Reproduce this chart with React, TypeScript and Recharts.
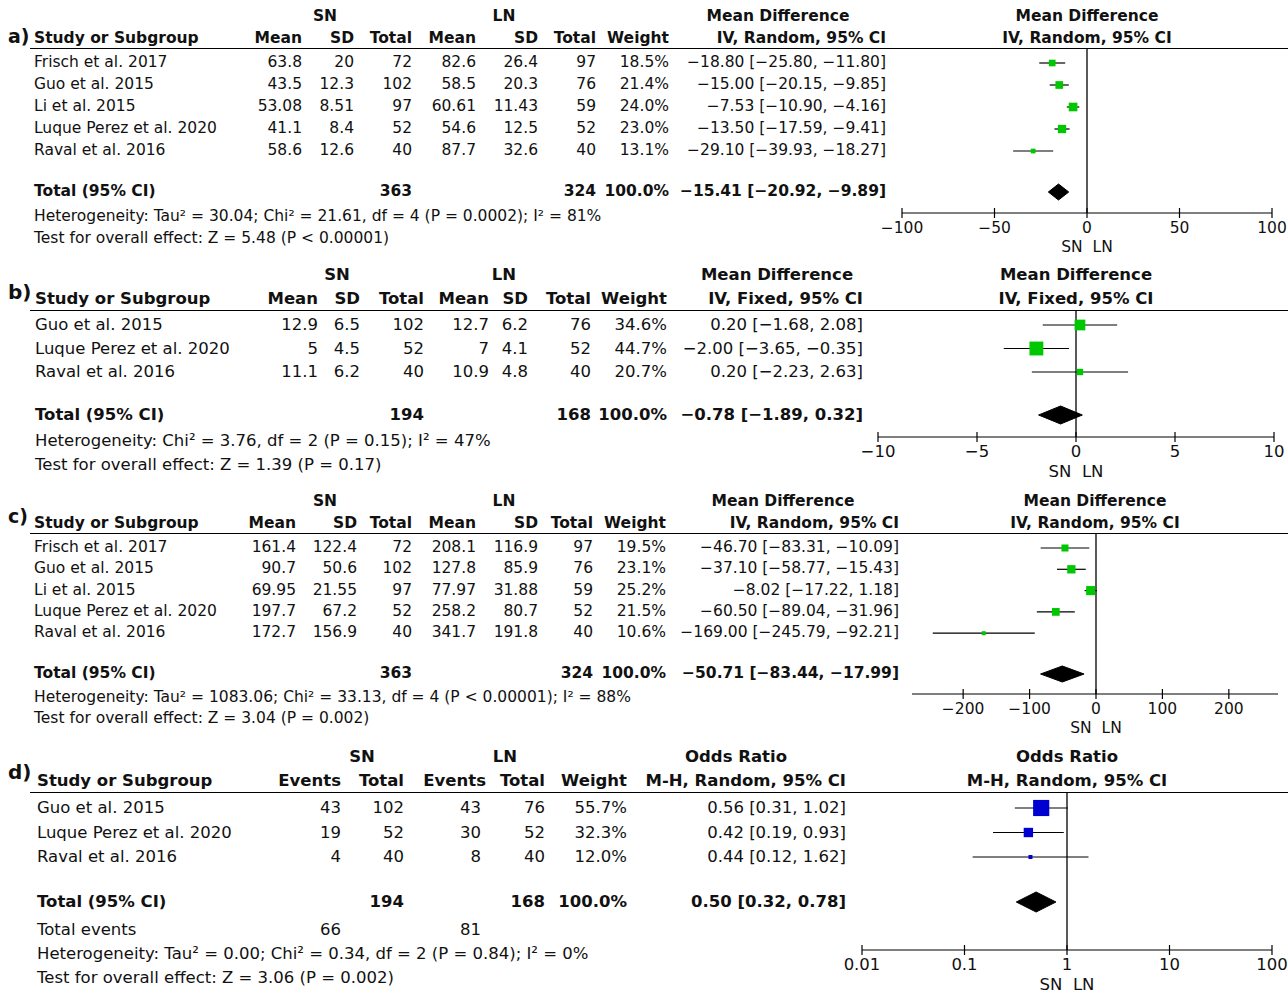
import React from "react";
import { ComposedChart, Scatter, ErrorBar, Area, XAxis, YAxis, ReferenceLine } from "recharts";

// ---------- data ----------
const A_STUDIES = ["Frisch et al. 2017", "Guo et al. 2015", "Li et al. 2015", "Luque Perez et al. 2020", "Raval et al. 2016"];
const A_SN_MEAN = ["63.8", "43.5", "53.08", "41.1", "58.6"];
const A_SN_SD = ["20", "12.3", "8.51", "8.4", "12.6"];
const A_SN_N = [72, 102, 97, 52, 40];
const A_LN_MEAN = ["82.6", "58.5", "60.61", "54.6", "87.7"];
const A_LN_SD = ["26.4", "20.3", "11.43", "12.5", "32.6"];
const A_LN_N = [97, 76, 59, 52, 40];
const A_W = [18.5, 21.4, 24.0, 23.0, 13.1];
const A_EST = [-18.8, -15.0, -7.53, -13.5, -29.1];
const A_LO = [-25.8, -20.15, -10.9, -17.59, -39.93];
const A_HI = [-11.8, -9.85, -4.16, -9.41, -18.27];
const A_TOT = [-15.41, -20.92, -9.89];
const A_TOT_N = [363, 324];

const B_STUDIES = ["Guo et al. 2015", "Luque Perez et al. 2020", "Raval et al. 2016"];
const B_SN_MEAN = ["12.9", "5", "11.1"];
const B_SN_SD = ["6.5", "4.5", "6.2"];
const B_SN_N = [102, 52, 40];
const B_LN_MEAN = ["12.7", "7", "10.9"];
const B_LN_SD = ["6.2", "4.1", "4.8"];
const B_LN_N = [76, 52, 40];
const B_W = [34.6, 44.7, 20.7];
const B_EST = [0.2, -2.0, 0.2];
const B_LO = [-1.68, -3.65, -2.23];
const B_HI = [2.08, -0.35, 2.63];
const B_TOT = [-0.78, -1.89, 0.32];
const B_TOT_N = [194, 168];

const C_STUDIES = A_STUDIES;
const C_SN_MEAN = ["161.4", "90.7", "69.95", "197.7", "172.7"];
const C_SN_SD = ["122.4", "50.6", "21.55", "67.2", "156.9"];
const C_SN_N = [72, 102, 97, 52, 40];
const C_LN_MEAN = ["208.1", "127.8", "77.97", "258.2", "341.7"];
const C_LN_SD = ["116.9", "85.9", "31.88", "80.7", "191.8"];
const C_LN_N = [97, 76, 59, 52, 40];
const C_W = [19.5, 23.1, 25.2, 21.5, 10.6];
const C_EST = [-46.7, -37.1, -8.02, -60.5, -169.0];
const C_LO = [-83.31, -58.77, -17.22, -89.04, -245.79];
const C_HI = [-10.09, -15.43, 1.18, -31.96, -92.21];
const C_TOT = [-50.71, -83.44, -17.99];
const C_TOT_N = [363, 324];

const D_STUDIES = B_STUDIES;
const D_SN_EV = [43, 19, 4];
const D_SN_N = [102, 52, 40];
const D_LN_EV = [43, 30, 8];
const D_LN_N = [76, 52, 40];
const D_W = [55.7, 32.3, 12.0];
const D_EST = [0.56, 0.42, 0.44];
const D_LO = [0.31, 0.19, 0.12];
const D_HI = [1.02, 0.93, 1.62];
const D_TOT = [0.5, 0.32, 0.78];
const D_TOT_N = [194, 168];
const D_TOT_EV = [66, 81];

const TICKS_A = [-100, -50, 0, 50, 100];
const TICKS_B = [-10, -5, 0, 5, 10];
const TICKS_C = [-200, -100, 0, 100, 200];
const TICKS_D = [0.01, 0.1, 1, 10, 100];

// ---------- helpers ----------
const FONT = "'DejaVu Sans', sans-serif";
const num = (v: number, d = 2) => (v < 0 ? "\u2212" : "") + Math.abs(v).toFixed(d);
const ci = (e: number, l: number, h: number) => `${num(e)} [${num(l)}, ${num(h)}]`;

type TProps = { x: number; y: number; size: number; bold?: boolean; align?: "l" | "r" | "c"; children: React.ReactNode };
const T = ({ x, y, size, bold, align = "l", children }: TProps) => {
  const style: React.CSSProperties = {
    position: "absolute", top: y, fontSize: size, fontWeight: bold ? "bold" : "normal",
    whiteSpace: "nowrap", lineHeight: "1", transform: "translateY(-50%)", color: "#111",
  };
  if (align === "l") style.left = x;
  else if (align === "r") style.right = 1288 - x;
  else { style.left = x; style.transform = "translate(-50%,-50%)"; }
  return <div style={style}>{children}</div>;
};

type ForestProps = {
  lineY: number; rowStart: number; rowH: number; totalY: number; axisY: number;
  xl: number; xr: number; domain: [number, number]; ticks: number[]; log?: boolean;
  est: number[]; lo: number[]; hi: number[]; w: number[]; tot: number[];
  color: string; sq: number; fs: number; zero: number; zeroPx: number; dh: number;
};

const Forest = (p: ForestProps) => {
  const pad = 20;
  const width = p.xr - p.xl + pad * 2;
  const height = p.axisY - p.lineY + 40;
  const yDom: [number, number] = [(p.lineY - p.rowStart) / p.rowH, (p.axisY - p.rowStart) / p.rowH];
  const rows = p.est.map((e, i) => ({ x: e, y: i, err: [e - p.lo[i], p.hi[i] - e], w: p.w[i] }));
  const ty = (p.totalY - p.rowStart) / p.rowH;
  const dh = p.dh / p.rowH;
  const diamond = [
    { x: p.tot[1], r: [ty, ty] },
    { x: p.tot[0], r: [ty - dh, ty + dh] },
    { x: p.tot[2], r: [ty, ty] },
  ];
  const Sq = (props: any) => {
    const s = Math.max(4, props.payload.w * p.sq);
    return <rect x={props.cx - s / 2} y={props.cy - s / 2} width={s} height={s} fill={p.color} />;
  };
  const Tick = (props: any) => {
    const { x, y, payload } = props;
    const v = payload.value as number;
    const label = v < 0 ? "\u2212" + String(Math.abs(v)) : String(v);
    return (
      <g>
        <line x1={x} x2={x} y1={y - 5} y2={y + 5} stroke="#000" strokeWidth={1.2} />
        <text x={x} y={y + 15} textAnchor="middle" dominantBaseline="middle" fontSize={p.fs} fontFamily={FONT} fill="#111">{label}</text>
      </g>
    );
  };
  return (
    <div style={{ position: "absolute", left: p.xl - pad, top: p.lineY }}>
      <ComposedChart width={width} height={height} margin={{ top: 0, left: pad, right: pad, bottom: 10 }}>
        <XAxis
          type="number" dataKey="x" domain={p.domain} ticks={p.ticks} scale={p.log ? "log" : "auto"}
          allowDataOverflow height={30} stroke="#000" strokeWidth={1.2} tickLine={false} tickSize={0} tickMargin={0}
          tick={<Tick />}
        />
        <YAxis type="number" dataKey="y" domain={yDom} reversed hide allowDataOverflow />
        <ReferenceLine x={p.zero} stroke="#000" strokeWidth={1.3} />
        <Area data={diamond} dataKey="r" type="linear" stroke="#000" fill="#000" fillOpacity={1} isAnimationActive={false} />
        <Scatter data={rows} shape={Sq} isAnimationActive={false}>
          <ErrorBar dataKey="err" direction="x" width={0} stroke="#000" strokeWidth={1.2} />
        </Scatter>
      </ComposedChart>
      <div style={{ position: "absolute", top: height - 6, left: p.zeroPx - (p.xl - pad), transform: "translate(-50%,-50%)", fontSize: p.fs, whiteSpace: "nowrap" }}>
        SN&nbsp;&nbsp;LN
      </div>
    </div>
  );
};

const HLine = ({ y }: { y: number }) => (
  <div style={{ position: "absolute", left: 30, width: 1258, top: y, height: 1.3, background: "#000" }} />
);

// ---------- app ----------
export default function App() {
  const fa = 15.5;
  const fb = 16.5;
  const fd = 16.5;
  return (
    <div style={{ position: "absolute", left: 0, top: 0, width: 1288, height: 998, background: "#fff", fontFamily: FONT, color: "#111", overflow: "hidden" }}>
      {/* ===== a ===== */}
      <T x={8} y={36} size={19} bold>a)</T>
      <T x={325} y={17} size={fa} bold align="c">SN</T>
      <T x={504} y={17} size={fa} bold align="c">LN</T>
      <T x={778} y={17} size={fa} bold align="c">Mean Difference</T>
      <T x={1087} y={17} size={fa} bold align="c">Mean Difference</T>
      <T x={34} y={39} size={fa} bold>Study or Subgroup</T>
      <T x={302} y={39} size={fa} bold align="r">Mean</T>
      <T x={354} y={39} size={fa} bold align="r">SD</T>
      <T x={412} y={39} size={fa} bold align="r">Total</T>
      <T x={476} y={39} size={fa} bold align="r">Mean</T>
      <T x={538} y={39} size={fa} bold align="r">SD</T>
      <T x={596} y={39} size={fa} bold align="r">Total</T>
      <T x={669} y={39} size={fa} bold align="r">Weight</T>
      <T x={886} y={39} size={fa} bold align="r">IV, Random, 95% CI</T>
      <T x={1087} y={39} size={fa} bold align="c">IV, Random, 95% CI</T>
      <HLine y={48} />
      {A_STUDIES.map((s, i) => {
        const y = 63 + i * 22;
        return (
          <React.Fragment key={s}>
            <T x={34} y={y} size={fa}>{s}</T>
            <T x={302} y={y} size={fa} align="r">{A_SN_MEAN[i]}</T>
            <T x={354} y={y} size={fa} align="r">{A_SN_SD[i]}</T>
            <T x={412} y={y} size={fa} align="r">{A_SN_N[i]}</T>
            <T x={476} y={y} size={fa} align="r">{A_LN_MEAN[i]}</T>
            <T x={538} y={y} size={fa} align="r">{A_LN_SD[i]}</T>
            <T x={596} y={y} size={fa} align="r">{A_LN_N[i]}</T>
            <T x={669} y={y} size={fa} align="r">{A_W[i].toFixed(1)}%</T>
            <T x={886} y={y} size={fa} align="r">{ci(A_EST[i], A_LO[i], A_HI[i])}</T>
          </React.Fragment>
        );
      })}
      <T x={34} y={192} size={fa} bold>Total (95% CI)</T>
      <T x={412} y={192} size={fa} bold align="r">{A_TOT_N[0]}</T>
      <T x={596} y={192} size={fa} bold align="r">{A_TOT_N[1]}</T>
      <T x={669} y={192} size={fa} bold align="r">100.0%</T>
      <T x={886} y={192} size={fa} bold align="r">{ci(A_TOT[0], A_TOT[1], A_TOT[2])}</T>
      <T x={34} y={217} size={fa}>Heterogeneity: Tau² = 30.04; Chi² = 21.61, df = 4 (P = 0.0002); I² = 81%</T>
      <T x={34} y={239} size={fa}>Test for overall effect: Z = 5.48 (P &lt; 0.00001)</T>
      <Forest lineY={48} rowStart={63} rowH={22} totalY={192} axisY={213} xl={902} xr={1272}
        domain={[-100, 100]} ticks={TICKS_A} est={A_EST} lo={A_LO} hi={A_HI} w={A_W} tot={A_TOT}
        color="#00c800" sq={0.36} fs={fa} zero={0} zeroPx={1087} dh={8} />

      {/* ===== b ===== */}
      <T x={8} y={292} size={20} bold>b)</T>
      <T x={337} y={275} size={fb} bold align="c">SN</T>
      <T x={504} y={275} size={fb} bold align="c">LN</T>
      <T x={777} y={275} size={fb} bold align="c">Mean Difference</T>
      <T x={1076} y={275} size={fb} bold align="c">Mean Difference</T>
      <T x={35} y={299} size={fb} bold>Study or Subgroup</T>
      <T x={318} y={299} size={fb} bold align="r">Mean</T>
      <T x={360} y={299} size={fb} bold align="r">SD</T>
      <T x={424} y={299} size={fb} bold align="r">Total</T>
      <T x={489} y={299} size={fb} bold align="r">Mean</T>
      <T x={528} y={299} size={fb} bold align="r">SD</T>
      <T x={591} y={299} size={fb} bold align="r">Total</T>
      <T x={667} y={299} size={fb} bold align="r">Weight</T>
      <T x={863} y={299} size={fb} bold align="r">IV, Fixed, 95% CI</T>
      <T x={1076} y={299} size={fb} bold align="c">IV, Fixed, 95% CI</T>
      <HLine y={310} />
      {B_STUDIES.map((s, i) => {
        const y = 325 + i * 23.5;
        return (
          <React.Fragment key={s}>
            <T x={35} y={y} size={fb}>{s}</T>
            <T x={318} y={y} size={fb} align="r">{B_SN_MEAN[i]}</T>
            <T x={360} y={y} size={fb} align="r">{B_SN_SD[i]}</T>
            <T x={424} y={y} size={fb} align="r">{B_SN_N[i]}</T>
            <T x={489} y={y} size={fb} align="r">{B_LN_MEAN[i]}</T>
            <T x={528} y={y} size={fb} align="r">{B_LN_SD[i]}</T>
            <T x={591} y={y} size={fb} align="r">{B_LN_N[i]}</T>
            <T x={667} y={y} size={fb} align="r">{B_W[i].toFixed(1)}%</T>
            <T x={863} y={y} size={fb} align="r">{ci(B_EST[i], B_LO[i], B_HI[i])}</T>
          </React.Fragment>
        );
      })}
      <T x={35} y={415} size={fb} bold>Total (95% CI)</T>
      <T x={424} y={415} size={fb} bold align="r">{B_TOT_N[0]}</T>
      <T x={591} y={415} size={fb} bold align="r">{B_TOT_N[1]}</T>
      <T x={667} y={415} size={fb} bold align="r">100.0%</T>
      <T x={863} y={415} size={fb} bold align="r">{ci(B_TOT[0], B_TOT[1], B_TOT[2])}</T>
      <T x={35} y={441} size={fb}>Heterogeneity: Chi² = 3.76, df = 2 (P = 0.15); I² = 47%</T>
      <T x={35} y={465} size={fb}>Test for overall effect: Z = 1.39 (P = 0.17)</T>
      <Forest lineY={310} rowStart={325} rowH={23.5} totalY={415} axisY={437} xl={878} xr={1274}
        domain={[-10, 10]} ticks={TICKS_B} est={B_EST} lo={B_LO} hi={B_HI} w={B_W} tot={B_TOT}
        color="#00c800" sq={0.31} fs={fb} zero={0} zeroPx={1076} dh={9} />

      {/* ===== c ===== */}
      <T x={8} y={516} size={19} bold>c)</T>
      <T x={325} y={502} size={fa} bold align="c">SN</T>
      <T x={504} y={502} size={fa} bold align="c">LN</T>
      <T x={783} y={502} size={fa} bold align="c">Mean Difference</T>
      <T x={1095} y={502} size={fa} bold align="c">Mean Difference</T>
      <T x={34} y={524} size={fa} bold>Study or Subgroup</T>
      <T x={296} y={524} size={fa} bold align="r">Mean</T>
      <T x={357} y={524} size={fa} bold align="r">SD</T>
      <T x={412} y={524} size={fa} bold align="r">Total</T>
      <T x={476} y={524} size={fa} bold align="r">Mean</T>
      <T x={538} y={524} size={fa} bold align="r">SD</T>
      <T x={593} y={524} size={fa} bold align="r">Total</T>
      <T x={666} y={524} size={fa} bold align="r">Weight</T>
      <T x={899} y={524} size={fa} bold align="r">IV, Random, 95% CI</T>
      <T x={1095} y={524} size={fa} bold align="c">IV, Random, 95% CI</T>
      <HLine y={533} />
      {C_STUDIES.map((s, i) => {
        const y = 548 + i * 21.3;
        return (
          <React.Fragment key={s}>
            <T x={34} y={y} size={fa}>{s}</T>
            <T x={296} y={y} size={fa} align="r">{C_SN_MEAN[i]}</T>
            <T x={357} y={y} size={fa} align="r">{C_SN_SD[i]}</T>
            <T x={412} y={y} size={fa} align="r">{C_SN_N[i]}</T>
            <T x={476} y={y} size={fa} align="r">{C_LN_MEAN[i]}</T>
            <T x={538} y={y} size={fa} align="r">{C_LN_SD[i]}</T>
            <T x={593} y={y} size={fa} align="r">{C_LN_N[i]}</T>
            <T x={666} y={y} size={fa} align="r">{C_W[i].toFixed(1)}%</T>
            <T x={899} y={y} size={fa} align="r">{ci(C_EST[i], C_LO[i], C_HI[i])}</T>
          </React.Fragment>
        );
      })}
      <T x={34} y={674} size={fa} bold>Total (95% CI)</T>
      <T x={412} y={674} size={fa} bold align="r">{C_TOT_N[0]}</T>
      <T x={593} y={674} size={fa} bold align="r">{C_TOT_N[1]}</T>
      <T x={666} y={674} size={fa} bold align="r">100.0%</T>
      <T x={899} y={674} size={fa} bold align="r">{ci(C_TOT[0], C_TOT[1], C_TOT[2])}</T>
      <T x={34} y={698} size={fa}>Heterogeneity: Tau² = 1083.06; Chi² = 33.13, df = 4 (P &lt; 0.00001); I² = 88%</T>
      <T x={34} y={719} size={fa}>Test for overall effect: Z = 3.04 (P = 0.002)</T>
      <Forest lineY={533} rowStart={548} rowH={21.3} totalY={674} axisY={694} xl={912} xr={1278}
        domain={[-277, 274]} ticks={TICKS_C} est={C_EST} lo={C_LO} hi={C_HI} w={C_W} tot={C_TOT}
        color="#00c800" sq={0.36} fs={fa} zero={0} zeroPx={1096} dh={8} />

      {/* ===== d ===== */}
      <T x={8} y={772} size={20} bold>d)</T>
      <T x={362} y={757} size={fd} bold align="c">SN</T>
      <T x={505} y={757} size={fd} bold align="c">LN</T>
      <T x={736} y={757} size={fd} bold align="c">Odds Ratio</T>
      <T x={1067} y={757} size={fd} bold align="c">Odds Ratio</T>
      <T x={37} y={781} size={fd} bold>Study or Subgroup</T>
      <T x={341} y={781} size={fd} bold align="r">Events</T>
      <T x={404} y={781} size={fd} bold align="r">Total</T>
      <T x={486} y={781} size={fd} bold align="r">Events</T>
      <T x={545} y={781} size={fd} bold align="r">Total</T>
      <T x={627} y={781} size={fd} bold align="r">Weight</T>
      <T x={846} y={781} size={fd} bold align="r">M-H, Random, 95% CI</T>
      <T x={1067} y={781} size={fd} bold align="c">M-H, Random, 95% CI</T>
      <HLine y={792} />
      {D_STUDIES.map((s, i) => {
        const y = 808 + i * 24.5;
        return (
          <React.Fragment key={s}>
            <T x={37} y={y} size={fd}>{s}</T>
            <T x={341} y={y} size={fd} align="r">{D_SN_EV[i]}</T>
            <T x={404} y={y} size={fd} align="r">{D_SN_N[i]}</T>
            <T x={481} y={y} size={fd} align="r">{D_LN_EV[i]}</T>
            <T x={545} y={y} size={fd} align="r">{D_LN_N[i]}</T>
            <T x={627} y={y} size={fd} align="r">{D_W[i].toFixed(1)}%</T>
            <T x={846} y={y} size={fd} align="r">{ci(D_EST[i], D_LO[i], D_HI[i])}</T>
          </React.Fragment>
        );
      })}
      <T x={37} y={902} size={fd} bold>Total (95% CI)</T>
      <T x={404} y={902} size={fd} bold align="r">{D_TOT_N[0]}</T>
      <T x={545} y={902} size={fd} bold align="r">{D_TOT_N[1]}</T>
      <T x={627} y={902} size={fd} bold align="r">100.0%</T>
      <T x={846} y={902} size={fd} bold align="r">{ci(D_TOT[0], D_TOT[1], D_TOT[2])}</T>
      <T x={37} y={930} size={fd}>Total events</T>
      <T x={341} y={930} size={fd} align="r">{D_TOT_EV[0]}</T>
      <T x={481} y={930} size={fd} align="r">{D_TOT_EV[1]}</T>
      <T x={37} y={954} size={fd}>Heterogeneity: Tau² = 0.00; Chi² = 0.34, df = 2 (P = 0.84); I² = 0%</T>
      <T x={37} y={978} size={fd}>Test for overall effect: Z = 3.06 (P = 0.002)</T>
      <Forest lineY={792} rowStart={808} rowH={24.5} totalY={902} axisY={950} xl={862} xr={1272}
        domain={[0.01, 100]} ticks={TICKS_D} log est={D_EST} lo={D_LO} hi={D_HI} w={D_W} tot={D_TOT}
        color="#0000d0" sq={0.29} fs={fd} zero={1} zeroPx={1067} dh={10} />
    </div>
  );
}
